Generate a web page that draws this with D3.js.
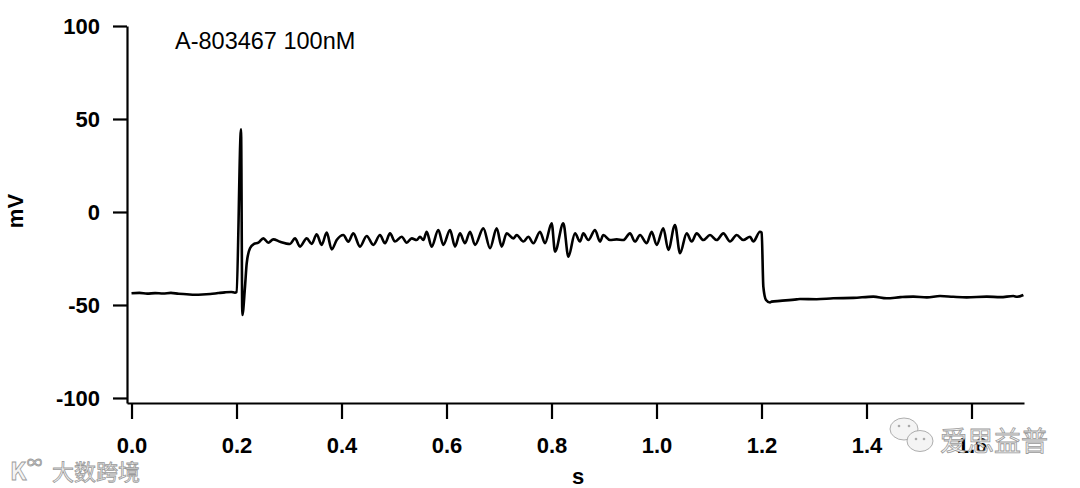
<!DOCTYPE html>
<html>
<head>
<meta charset="utf-8">
<script src="https://cdn.jsdelivr.net/npm/d3@7"></script>
<style>
  body { margin: 0; background: #fff; }
  svg { display: block; font-family: "Liberation Sans", Arial, sans-serif; }
</style>
</head>
<body>
<div id="chart"></div>
<script>
// trace: [time (s), membrane potential (mV)]
var preStim = [
    [0.000, -43.7], [0.015, -43.5], [0.030, -43.9], [0.045, -43.6], [0.060, -43.8],
    [0.075, -43.5], [0.090, -44.0], [0.105, -44.2], [0.120, -44.5], [0.135, -44.4],
    [0.150, -44.1], [0.165, -43.6], [0.178, -43.2], [0.190, -43.0], [0.197, -43.4]
];
var spike = [
    [0.2000, -43.0], [0.2086, 44.4], [0.2111, -55.4], [0.2162, -40.1],
    [0.2194, -27.6], [0.2257, -19.5], [0.2333, -17.2], [0.2416, -16.5]
];
var plateau = [
    [0.2511, -14.2], [0.2606, -16.5], [0.2701, -14.7], [0.2829, -16.0], [0.3019, -17.2],
    [0.3114, -14.2], [0.3210, -18.6], [0.3337, -14.2], [0.3432, -17.2], [0.3527, -12.0],
    [0.3622, -17.7], [0.3718, -11.1], [0.3813, -20.1], [0.3908, -15.1], [0.4035, -12.4],
    [0.4130, -16.0], [0.4225, -11.5], [0.4352, -18.6], [0.4479, -12.9], [0.4606, -17.7],
    [0.4733, -12.4], [0.4829, -16.8], [0.4924, -11.5], [0.5019, -15.9], [0.5146, -13.3],
    [0.5241, -16.5], [0.5337, -14.2], [0.5432, -15.1], [0.5495, -13.3], [0.5559, -15.1],
    [0.5622, -10.6], [0.5717, -18.6], [0.5844, -9.7], [0.5940, -17.7], [0.6067, -9.7],
    [0.6162, -18.6], [0.6257, -11.5], [0.6352, -16.8], [0.6448, -10.6], [0.6543, -17.7],
    [0.6702, -8.8], [0.6829, -19.5], [0.6956, -8.8], [0.7051, -18.6], [0.7146, -11.5],
    [0.7273, -14.2], [0.7337, -12.4], [0.7464, -15.9], [0.7559, -13.3], [0.7654, -16.8],
    [0.7781, -10.6], [0.7876, -16.8], [0.8003, -6.1], [0.8067, -21.3], [0.8225, -6.1],
    [0.8321, -24.0], [0.8448, -11.5], [0.8543, -15.9], [0.8606, -11.5], [0.8702, -15.1],
    [0.8829, -9.7], [0.8924, -15.9], [0.8987, -12.4], [0.9114, -15.1], [0.9241, -14.7],
    [0.9368, -15.1], [0.9495, -11.5], [0.9590, -15.9], [0.9686, -12.4], [0.9813, -16.8],
    [0.9908, -10.6], [1.0003, -17.7], [1.0130, -8.8], [1.0225, -20.4], [1.0352, -7.0],
    [1.0448, -22.2], [1.0575, -11.5], [1.0670, -15.9], [1.0765, -11.5], [1.0892, -15.1],
    [1.1019, -12.4], [1.1146, -15.1], [1.1273, -11.5], [1.1400, -15.9], [1.1527, -12.4],
    [1.1654, -15.1], [1.1781, -13.3], [1.1844, -15.9], [1.1971, -10.6], [1.2003, -11.1]
];
var postStim = [
    [1.2035, -40.1], [1.2086, -47.3], [1.2162, -48.7], [1.2194, -48.2], [1.2352, -47.8],
    [1.2670, -47.0], [1.2733, -46.8], [1.3050, -46.9], [1.3368, -46.4], [1.3750, -46.2],
    [1.4130, -45.5], [1.4384, -46.4], [1.4650, -45.8], [1.4892, -45.5], [1.5150, -45.9],
    [1.5400, -45.2], [1.5650, -45.6], [1.5908, -45.9], [1.6290, -45.5], [1.6550, -45.8],
    [1.6796, -45.2], [1.6870, -45.6], [1.6987, -44.6]
];
var trace = preStim.concat(spike, plateau, postStim);

var xTicks = [0, 0.2, 0.4, 0.6, 0.8, 1.0, 1.2, 1.4, 1.6];
var yTicks = [-100, -50, 0, 50, 100];
var title = "A-803467 100nM";

var W = 1080, H = 488;

var svg = d3.select("#chart")
    .append("svg")
    .attr("width", W)
    .attr("height", H);

var x = d3.scaleLinear()
    .domain([-0.0086, 1.7])
    .range([127, 1024]);

var y = d3.scaleLinear()
    .domain([-102.7, 100])
    .range([403, 26]);

// axes, Igor style (no end ticks)
var xAxis = d3.axisBottom(x)
    .tickValues(xTicks)
    .tickSize(16)
    .tickSizeOuter(0)
    .tickPadding(18)
    .tickFormat(d3.format(".1f"));

var yAxis = d3.axisLeft(y)
    .tickValues(yTicks)
    .tickSize(14)
    .tickSizeOuter(0)
    .tickPadding(13)
    .tickFormat(function(d) { return String(d); });

var gx = svg.append("g")
    .attr("transform", "translate(0," + y.range()[0] + ")")
    .call(xAxis);

var gy = svg.append("g")
    .attr("transform", "translate(" + x.range()[0] + ",0)")
    .call(yAxis);

[gx, gy].forEach(function(g) {
    g.selectAll("path, line")
        .attr("stroke", "#000")
        .attr("stroke-width", 2.2);
    g.selectAll("text")
        .attr("fill", "#000")
        .style("font-size", "22px")
        .style("font-weight", "bold")
        .style("font-family", "'Liberation Sans', Arial, sans-serif");
});

// the trace
svg.append("path")
    .datum(trace)
    .attr("fill", "none")
    .attr("stroke", "#000")
    .attr("stroke-width", 2.6)
    .attr("stroke-linejoin", "round")
    .attr("d", d3.line()
        .curve(d3.curveMonotoneX)
        .x(function(d) { return x(d[0]); })
        .y(function(d) { return y(d[1]); })
    );

// labels
svg.append("text")
    .attr("x", 175)
    .attr("y", 49)
    .attr("fill", "#000")
    .style("font-size", "23.5px")
    .text(title);

svg.append("text")
    .attr("transform", "translate(23,211) rotate(-90)")
    .attr("text-anchor", "middle")
    .attr("fill", "#000")
    .style("font-size", "22px")
    .style("font-weight", "bold")
    .text("mV");

svg.append("text")
    .attr("x", 578)
    .attr("y", 484)
    .attr("text-anchor", "middle")
    .attr("fill", "#000")
    .style("font-size", "22px")
    .style("font-weight", "bold")
    .text("s");

// watermarks
var wm = svg.append("g")
    .attr("fill", "#f4f4f4")
    .attr("stroke", "#9a9a9a")
    .attr("stroke-width", 0.8)
    .style("font-family", "'Noto Sans CJK SC', sans-serif");

wm.append("text")
    .attr("x", 10)
    .attr("y", 480)
    .style("font-size", "24px")
    .style("font-weight", "bold")
    .text("K");
wm.append("text")
    .attr("x", 27)
    .attr("y", 468)
    .style("font-size", "15px")
    .text("∞");
wm.append("text")
    .attr("x", 52)
    .attr("y", 480)
    .style("font-size", "22px")
    .text("大数跨境");

wm.append("ellipse")
    .attr("cx", 904).attr("cy", 429).attr("rx", 14).attr("ry", 11);
wm.append("ellipse")
    .attr("cx", 920).attr("cy", 441).attr("rx", 13).attr("ry", 10.5);
[[899, 426], [909, 426], [916, 439], [924, 439]].forEach(function(p) {
    wm.append("circle")
        .attr("cx", p[0]).attr("cy", p[1]).attr("r", 1.3)
        .attr("fill", "#aaa").attr("stroke", "none");
});
wm.append("text")
    .attr("x", 940)
    .attr("y", 451)
    .style("font-size", "27px")
    .text("爱思益普");
</script>
</body>
</html>
